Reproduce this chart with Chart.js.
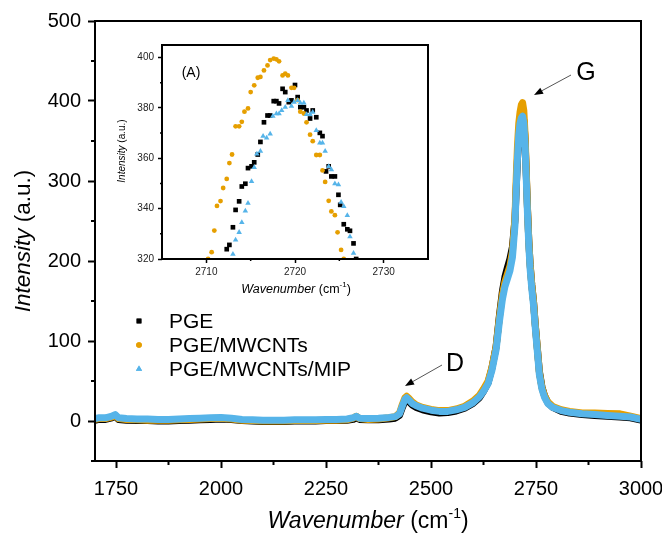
<!DOCTYPE html>
<html><head><meta charset="utf-8">
<script src="https://cdn.jsdelivr.net/npm/chart.js@4.4.1/dist/chart.umd.min.js"></script>
<style>
html,body{margin:0;padding:0;background:#fff;}
#wrap{position:relative;width:662px;height:535px;overflow:hidden;}
#main{position:absolute;left:0;top:0;}
#inset{position:absolute;left:100px;top:35px;}
</style></head><body>
<div id="wrap"><canvas id="main" width="662" height="535"></canvas><canvas id="inset" width="340" height="270"></canvas></div>
<script>
const FONT = "'Liberation Sans', Arial, sans-serif";
const C_PGE = '#000000', C_MW = '#E69F00', C_MIP = '#56B4E9';

// ---------- main spectrum ----------
const wavenumber = [1700,1710,1725,1740,1748,1756,1775,1800,1825,1850,1875,1900,1925,1950,1975,2000,2025,2050,2075,2100,2125,2150,2175,2200,2225,2250,2275,2300,2315,2322,2330,2350,2375,2400,2415,2425,2432,2438,2442,2448,2455,2465,2480,2500,2520,2540,2560,2580,2600,2615,2625,2636,2645,2655,2663,2670,2676,2682,2688,2694,2700,2703,2706,2709,2712,2715,2718,2721,2724,2727,2730,2733,2736,2740,2744,2748,2753,2758,2764,2770,2778,2790,2810,2830,2860,2890,2920,2950,2975,3000];
const pge = [1,2,2,4,6,2,1,0.5,0.5,0,0,0.5,1,1.5,2,2.5,2,0.5,0,-0.5,-0.5,-0.5,0,0,0,0.5,0.5,1,2,4,2,1.5,1.5,2.5,3.5,7,17,25,27,24,20,17,14,11.5,10,10.5,12.5,16,22,29,37,48,66,93,132,162,180,192,203,218,252,292,328,352,368,378,383,376,352,306,262,224,196,170,150,122,92,62,43,32,23,17,12,10,8,7,6,5,4,1];
const pgeMwcnt = [2,3,3,5,7,3,2,1.5,1,1,1,1.5,2,2.5,3,3.5,2.5,1,0.5,0,0,0,0.5,0.5,0.5,1,1,1.5,3.5,6,3,2,2.5,4,5.5,10,21,29,31,28,24,20,17,14.5,13,13,15,18.5,25,32,40,50,67,93,130,158,174,184,194,212,255,305,345,372,386,395,398,388,358,310,262,224,196,170,150,122,92,61,42,32,24,18,14,12,10,10,9.5,9,6,3];
const pgeMwcntMip = [3,4,4,6,8,4,3,2.5,2.5,2,2,2.5,3,3.5,4,4.5,3.5,2,1.5,1,1,1,1.5,1.5,1.5,2,2,2.5,4,6,3.5,3,3.5,4.5,5.5,9,19,27,29,26,22,19,16,13.5,12,12,14,17,23,30,37,47,63,89,125,152,168,178,188,205,245,290,330,358,372,379,381,372,345,300,255,218,190,165,145,118,88,58,40,30,22,17,13,11,9,8,7,6,5,2];
const xTicks = [1750,2000,2250,2500,2750,3000];
const xMinor = [1875,2125,2375,2625,2875];
const yTicks = [0,100,200,300,400,500];
const yMinor = [-50,50,150,250,350,450];
const seriesNames = ['PGE','PGE/MWCNTs','PGE/MWCNTs/MIP'];

// ---------- inset (A) points ----------
const insetPgeX = [2712.3,2712.6,2713.0,2713.3,2713.7,2714.0,2714.4,2714.7,2715.1,2715.4,2715.8,2716.1,2716.5,2716.9,2717.2,2717.6,2717.9,2718.2,2718.6,2718.9,2719.3,2719.6,2720.0,2720.3,2720.6,2721.0,2721.3,2721.7,2722.0,2722.4,2722.8,2723.1,2723.5,2723.8,2724.1,2724.5,2724.9,2725.1,2725.5,2725.9,2726.2,2726.6,2726.9];
const insetPgeY = [323.9,325.6,332.6,339.5,342.9,348.8,349.9,356.1,356.8,358.4,361.5,366.5,374.3,377,377,382.7,382.7,381.8,387.6,386.3,382.3,383,389.1,384.3,380.3,380.3,379,375.8,379,376.3,370.1,368.8,354.8,356.8,352.8,352.8,345.5,341.5,333.8,331.8,331.2,326.2,320];
const insetMwX = [2710.2,2710.6,2710.9,2711.2,2711.6,2711.9,2712.3,2712.6,2712.9,2713.3,2713.7,2714.0,2714.3,2714.7,2715.0,2715.4,2715.8,2716.1,2716.5,2716.9,2717.2,2717.6,2717.9,2718.2,2718.6,2718.9,2719.2,2719.6,2719.9,2720.3,2720.6,2721.0,2721.3,2721.7,2722.0,2722.4,2722.8,2723.1,2723.4,2723.8,2724.1,2724.5,2724.8,2725.2,2725.5];
const insetMwY = [320,322.7,331.3,341.1,343,348.2,351.8,358.1,361.5,372.7,372.7,374.5,378.5,379.8,386.3,389,392,392.3,394.9,396.9,399,399.6,399.3,398.5,392.9,393.6,392.9,388,388,383.1,378.5,377.8,374.3,369.4,366.8,361.3,361.3,355.2,350.6,343.1,338.9,337.4,330.6,323.6,320];
const insetMipX = [2713.0,2713.3,2713.7,2714.0,2714.4,2714.7,2715.1,2715.4,2715.7,2716.1,2716.4,2716.8,2717.2,2717.5,2717.9,2718.2,2718.5,2718.9,2719.2,2719.6,2719.9,2720.3,2720.6,2721.0,2721.3,2721.7,2722.0,2722.4,2722.8,2723.1,2723.4,2723.8,2724.1,2724.5,2724.9,2725.2,2725.5,2725.9,2726.2,2726.6];
const insetMipY = [321.9,327.6,330.6,334.5,339.1,342.2,350.8,356.4,361.7,362.8,368.8,368.1,369.7,376.7,377.7,377.7,379,380.3,383,380.7,382.3,383,382,382,377.4,377.4,378.3,371.1,366.1,366.1,362.8,356.8,355.5,349.9,349.5,342.6,340.9,337.3,328.9,322.3];
const insetXTicks = [2710,2720,2730];
const insetXMinor = [2715,2725];
const insetYTicks = [320,340,360,380,400];
const insetYMinor = [330,350,370,390];

function pts(xs, ys){ return xs.map((x,i)=>({x:x, y:ys[i]})); }
const plainLabel = v => String(v);

// frame + minor ticks
const framePlugin = {
  id:'frame',
  afterDatasetsDraw(chart, args, o){
    const ctx = chart.ctx, a = chart.chartArea;
    const xs = chart.scales.x, ys = chart.scales.y;
    ctx.save();
    ctx.strokeStyle = '#000';
    ctx.lineWidth = o.tickWidth;
    ctx.beginPath();
    o.xMinor.forEach(v=>{const p=xs.getPixelForValue(v); ctx.moveTo(p,a.bottom); ctx.lineTo(p,a.bottom+o.minorLen);});
    o.yMinor.forEach(v=>{const p=ys.getPixelForValue(v); ctx.moveTo(a.left,p); ctx.lineTo(a.left-o.minorLen,p);});
    ctx.stroke();
    ctx.lineWidth = o.width;
    ctx.strokeRect(a.left, a.top, a.right-a.left, a.bottom-a.top);
    ctx.restore();
  }
};

function drawMixed(ctx, parts, cx, cy, rot){
  ctx.save();
  ctx.translate(cx, cy);
  if (rot) ctx.rotate(rot);
  let total = 0;
  parts.forEach(p=>{ ctx.font = p.font; p.w = ctx.measureText(p.text).width; total += p.w; });
  let x = -total/2;
  ctx.textBaseline = 'middle';
  ctx.textAlign = 'left';
  ctx.fillStyle = '#000';
  parts.forEach(p=>{ ctx.font = p.font; ctx.fillText(p.text, x, p.dy||0); x += p.w; });
  ctx.restore();
}

function arrow(ctx, x1, y1, x2, y2){
  const ang = Math.atan2(y2-y1, x2-x1);
  const L = 9, W = 3.5;
  const bx = x2 - L*Math.cos(ang), by = y2 - L*Math.sin(ang);
  ctx.save();
  ctx.strokeStyle = '#555'; ctx.lineWidth = 1;
  ctx.beginPath(); ctx.moveTo(x1,y1); ctx.lineTo(bx,by); ctx.stroke();
  ctx.fillStyle = '#000';
  ctx.beginPath();
  ctx.moveTo(x2,y2);
  ctx.lineTo(bx + W*Math.sin(ang), by - W*Math.cos(ang));
  ctx.lineTo(bx - W*Math.sin(ang), by + W*Math.cos(ang));
  ctx.closePath(); ctx.fill();
  ctx.restore();
}

const mainText = {
  id:'mainText',
  afterDraw(chart){
    const ctx = chart.ctx;
    drawMixed(ctx, [
      {text:'Wavenumber', font:'italic 23px '+FONT},
      {text:' (cm', font:'23px '+FONT},
      {text:'-1', font:'14px '+FONT, dy:-8},
      {text:')', font:'23px '+FONT}
    ], 368, 522, 0);
    drawMixed(ctx, [
      {text:'Intensity', font:'italic 22.5px '+FONT},
      {text:' (a.u.)', font:'22.5px '+FONT}
    ], 24, 241, -Math.PI/2);
    // legend
    const lx = 139, ty = [321, 345, 369], cols = [C_PGE, C_MW, C_MIP], styles = ['rect','circle','triangle'], rads = [3.4, 2.8, 3.6];
    ctx.save();
    ctx.font = '21px '+FONT; ctx.textBaseline = 'middle'; ctx.textAlign = 'left';
    for (let i=0;i<3;i++){
      ctx.fillStyle = cols[i];
      Chart.helpers.drawPoint(ctx, {pointStyle:styles[i], radius:rads[i], rotation:0, borderWidth:0}, lx, ty[i]);
      ctx.fill();
      ctx.fillStyle = '#000';
      ctx.fillText(seriesNames[i], 169, ty[i]+1);
    }
    // peak labels
    ctx.font = '25px '+FONT; ctx.textAlign = 'center';
    ctx.fillText('G', 586, 73);
    ctx.fillText('D', 455, 364);
    ctx.restore();
    arrow(ctx, 571, 75, 534, 95);
    arrow(ctx, 442, 365, 405, 386);
  }
};

const mainChart = new Chart(document.getElementById('main'), {
  type:'scatter',
  data:{ datasets:[
    {label:seriesNames[0], data:pts(wavenumber, pge), borderColor:C_PGE, backgroundColor:C_PGE, order:3, pointStyle:'rect'},
    {label:seriesNames[1], data:pts(wavenumber, pgeMwcnt), borderColor:C_MW, backgroundColor:C_MW, order:2, pointStyle:'circle'},
    {label:seriesNames[2], data:pts(wavenumber, pgeMwcntMip), borderColor:C_MIP, backgroundColor:C_MIP, order:1, pointStyle:'triangle'}
  ]},
  options:{
    responsive:false, animation:false,
    layout:{padding:{left:0, right:21, top:21, bottom:0}},
    datasets:{scatter:{showLine:true, pointRadius:0, borderWidth:7, borderJoinStyle:'round', borderCapStyle:'round', tension:0, clip:0}},
    plugins:{legend:{display:false}, tooltip:{enabled:false},
      frame:{width:2, tickWidth:2, minorLen:4, xMinor:xMinor, yMinor:yMinor}},
    scales:{
      x:{type:'linear', min:1700, max:3000,
        afterBuildTicks:s=>{ s.ticks = xTicks.map(v=>({value:v})); },
        afterFit:s=>{ s.height = 74; s.paddingLeft = 0; s.paddingRight = 0; },
        grid:{drawOnChartArea:false, drawTicks:true, tickLength:7, tickWidth:2, tickColor:'#000'},
        border:{display:false},
        ticks:{font:{family:FONT, size:20}, color:'#000', padding:9, maxRotation:0, autoSkip:false, callback:plainLabel}},
      y:{type:'linear', min:-50, max:500,
        afterBuildTicks:s=>{ s.ticks = yTicks.map(v=>({value:v})); },
        afterFit:s=>{ s.width = 95; s.paddingTop = 0; s.paddingBottom = 0; },
        grid:{drawOnChartArea:false, drawTicks:true, tickLength:7, tickWidth:2, tickColor:'#000'},
        border:{display:false},
        ticks:{font:{family:FONT, size:20}, color:'#000', padding:7, autoSkip:false, callback:plainLabel}}
    }
  },
  plugins:[framePlugin, mainText]
});

const insetText = {
  id:'insetText',
  afterDraw(chart){
    const ctx = chart.ctx;
    drawMixed(ctx, [
      {text:'Wavenumber', font:'italic 12.5px '+FONT},
      {text:' (cm', font:'12.5px '+FONT},
      {text:'-1', font:'8px '+FONT, dy:-5},
      {text:')', font:'12.5px '+FONT}
    ], 196, 255, 0);
    drawMixed(ctx, [
      {text:'Intensity', font:'italic 10px '+FONT},
      {text:' (a.u.)', font:'10px '+FONT}
    ], 22, 116, -Math.PI/2);
    ctx.save();
    ctx.font = '14px '+FONT; ctx.fillStyle = '#000'; ctx.textAlign='center'; ctx.textBaseline='middle';
    ctx.fillText('(A)', 91, 38);
    ctx.restore();
  }
};

const insetChart = new Chart(document.getElementById('inset'), {
  type:'scatter',
  data:{ datasets:[
    {label:seriesNames[0], data:pts(insetPgeX, insetPgeY), backgroundColor:C_PGE, borderColor:C_PGE, pointStyle:'rect', pointRadius:3.3, order:3},
    {label:seriesNames[1], data:pts(insetMwX, insetMwY), backgroundColor:C_MW, borderColor:C_MW, pointStyle:'circle', pointRadius:2.4, order:2},
    {label:seriesNames[2], data:pts(insetMipX, insetMipY), backgroundColor:C_MIP, borderColor:C_MIP, pointStyle:'triangle', pointRadius:3.2, order:1}
  ]},
  options:{
    responsive:false, animation:false,
    layout:{padding:{left:0, right:12, top:10, bottom:0}},
    datasets:{scatter:{showLine:false, borderWidth:0, clip:0}},
    plugins:{legend:{display:false}, tooltip:{enabled:false},
      frame:{width:2, tickWidth:1.5, minorLen:2, xMinor:insetXMinor, yMinor:insetYMinor}},
    scales:{
      x:{type:'linear', min:2705, max:2735,
        afterBuildTicks:s=>{ s.ticks = insetXTicks.map(v=>({value:v})); },
        afterFit:s=>{ s.height = 46; s.paddingLeft = 0; s.paddingRight = 0; },
        grid:{drawOnChartArea:false, drawTicks:true, tickLength:4, tickWidth:1.5, tickColor:'#000'},
        border:{display:false},
        ticks:{font:{family:FONT, size:10}, color:'#222', padding:3, maxRotation:0, autoSkip:false, callback:plainLabel}},
      y:{type:'linear', min:320, max:405,
        afterBuildTicks:s=>{ s.ticks = insetYTicks.map(v=>({value:v})); },
        afterFit:s=>{ s.width = 62; s.paddingTop = 0; s.paddingBottom = 0; },
        grid:{drawOnChartArea:false, drawTicks:true, tickLength:4, tickWidth:1.5, tickColor:'#000'},
        border:{display:false},
        ticks:{font:{family:FONT, size:10}, color:'#222', padding:4, autoSkip:false, callback:plainLabel}}
    }
  },
  plugins:[framePlugin, insetText]
});
</script>
</body></html>
